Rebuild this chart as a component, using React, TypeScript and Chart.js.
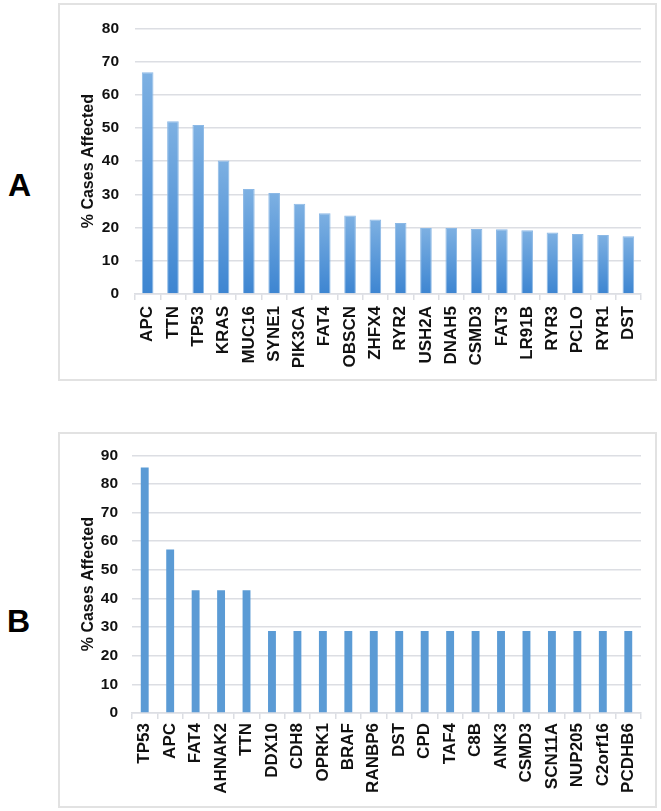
import React, { useEffect, useRef } from 'react';
import { Chart, registerables } from 'chart.js';
Chart.register(...registerables);

const genesA = ['APC', 'TTN', 'TP53', 'KRAS', 'MUC16', 'SYNE1', 'PIK3CA', 'FAT4', 'OBSCN', 'ZHFX4', 'RYR2', 'USH2A', 'DNAH5', 'CSMD3', 'FAT3', 'LR91B', 'RYR3', 'PCLO', 'RYR1', 'DST'];
const valuesA = [66.8, 52.0, 50.9, 40.2, 31.6, 30.4, 27.2, 24.3, 23.6, 22.4, 21.4, 19.9, 19.9, 19.6, 19.5, 19.2, 18.5, 18.1, 17.8, 17.4];
const maxA = 80;

const genesB = ['TP53', 'APC', 'FAT4', 'AHNAK2', 'TTN', 'DDX10', 'CDH8', 'OPRK1', 'BRAF', 'RANBP6', 'DST', 'CPD', 'TAF4', 'C8B', 'ANK3', 'CSMD3', 'SCN11A', 'NUP205', 'C2orf16', 'PCDHB6'];
const valuesB = [85.7, 57.1, 42.9, 42.9, 42.9, 28.6, 28.6, 28.6, 28.6, 28.6, 28.6, 28.6, 28.6, 28.6, 28.6, 28.6, 28.6, 28.6, 28.6, 28.6];
const maxB = 90;

const yTitle = '% Cases Affected';
const FONT = '"Liberation Sans", Arial, sans-serif';
const TEXT = '#111111';
const GRID = '#dcdee3';

type PanelProps = {
  labels: string[];
  values: number[];
  max: number;
  box: { left: number; top: number; width: number; height: number };
  yWidth: number;
  xHeight: number;
  padTop: number;
  padRight: number;
  barPct: number;
  gradient: boolean;
  yTickPad: number;
  xTickPad: number;
  titlePad: number;
  titleSize: number;
  tickSize: number;
  labelSize: number;
};

function BarPanel(p: PanelProps) {
  const ref = useRef<HTMLCanvasElement | null>(null);
  useEffect(() => {
    if (!ref.current) return;
    const chart = new Chart(ref.current, {
      type: 'bar',
      data: {
        labels: p.labels,
        datasets: [
          {
            data: p.values,
            backgroundColor: (ctx: any) => {
              if (!p.gradient) return '#5b9bd5';
              const c = ctx.chart;
              const ys = c.scales && c.scales.y;
              if (!ys || ctx.parsed == null) return '#5b9bd5';
              const top = ys.getPixelForValue(ctx.parsed.y);
              const bottom = ys.getPixelForValue(0);
              if (!isFinite(top) || !isFinite(bottom) || bottom - top < 1) return '#5b9bd5';
              const g = c.ctx.createLinearGradient(0, top, 0, bottom);
              g.addColorStop(0, '#7db0e2');
              g.addColorStop(1, '#3d85d1');
              return g;
            },
            borderColor: p.gradient ? '#8cb9e6' : '#5b9bd5',
            borderWidth: p.gradient ? 1 : 0,
            barPercentage: p.barPct,
            categoryPercentage: 1,
          },
        ],
      },
      options: {
        animation: false,
        responsive: false,
        maintainAspectRatio: false,
        layout: { padding: { top: p.padTop, right: p.padRight, left: 0, bottom: 0 } },
        plugins: { legend: { display: false }, tooltip: { enabled: false } },
        scales: {
          x: {
            grid: { display: true, offset: true, drawOnChartArea: false, drawTicks: true, tickLength: 6, color: GRID, lineWidth: 1.5 },
            border: { display: true, color: GRID, width: 1.5 },
            ticks: {
              autoSkip: false,
              maxRotation: 90,
              minRotation: 90,
              padding: p.xTickPad,
              color: TEXT,
              font: { family: FONT, size: p.labelSize, weight: 'bold' },
            },
            afterFit: (s: any) => {
              s.height = p.xHeight;
            },
          },
          y: {
            min: 0,
            max: p.max,
            ticks: {
              stepSize: 10,
              padding: p.yTickPad,
              color: TEXT,
              font: { family: FONT, size: p.tickSize, weight: 'bold' },
            },
            grid: { color: GRID, lineWidth: 1.5, drawTicks: false },
            border: { display: false },
            title: {
              display: true,
              text: yTitle,
              color: TEXT,
              padding: { top: p.titlePad, bottom: 0 },
              font: { family: FONT, size: p.titleSize, weight: 'bold' },
            },
            afterFit: (s: any) => {
              s.width = p.yWidth;
            },
          },
        },
      },
    } as any);
    return () => chart.destroy();
  }, []);
  const b = p.box;
  return (
    <>
      <div
        style={{
          position: 'absolute',
          left: b.left,
          top: b.top,
          width: b.width,
          height: b.height,
          border: '2px solid #e2e2e2',
          boxSizing: 'border-box',
        }}
      />
      <canvas
        ref={ref}
        width={b.width}
        height={b.height}
        style={{ position: 'absolute', left: b.left, top: b.top, width: b.width, height: b.height }}
      />
    </>
  );
}

const panelLetter = (txt: string, left: number, top: number) => (
  <div
    style={{
      position: 'absolute',
      left,
      top,
      fontFamily: FONT,
      fontWeight: 'bold',
      fontSize: 32,
      lineHeight: 1,
      color: '#000',
    }}
  >
    {txt}
  </div>
);

export default function App() {
  return (
    <div style={{ position: 'fixed', left: 0, top: 0, width: 661, height: 811, background: '#fff', overflow: 'hidden' }}>
      {panelLetter('A', 8, 169)}
      {panelLetter('B', 7, 605)}
      <BarPanel
        labels={genesA}
        values={valuesA}
        max={maxA}
        box={{ left: 58, top: 3, width: 599, height: 378 }}
        yWidth={77}
        xHeight={87}
        padTop={17}
        padRight={16}
        barPct={0.46}
        gradient={true}
        yTickPad={16}
        xTickPad={6}
        titlePad={21}
        titleSize={16}
        tickSize={15.5}
        labelSize={17}
      />
      <BarPanel
        labels={genesB}
        values={valuesB}
        max={maxB}
        box={{ left: 58, top: 432, width: 599, height: 376 }}
        yWidth={74}
        xHeight={95}
        padTop={18}
        padRight={16}
        barPct={0.31}
        gradient={false}
        yTickPad={14}
        xTickPad={4}
        titlePad={21}
        titleSize={16}
        tickSize={15.5}
        labelSize={17}
      />
    </div>
  );
}
